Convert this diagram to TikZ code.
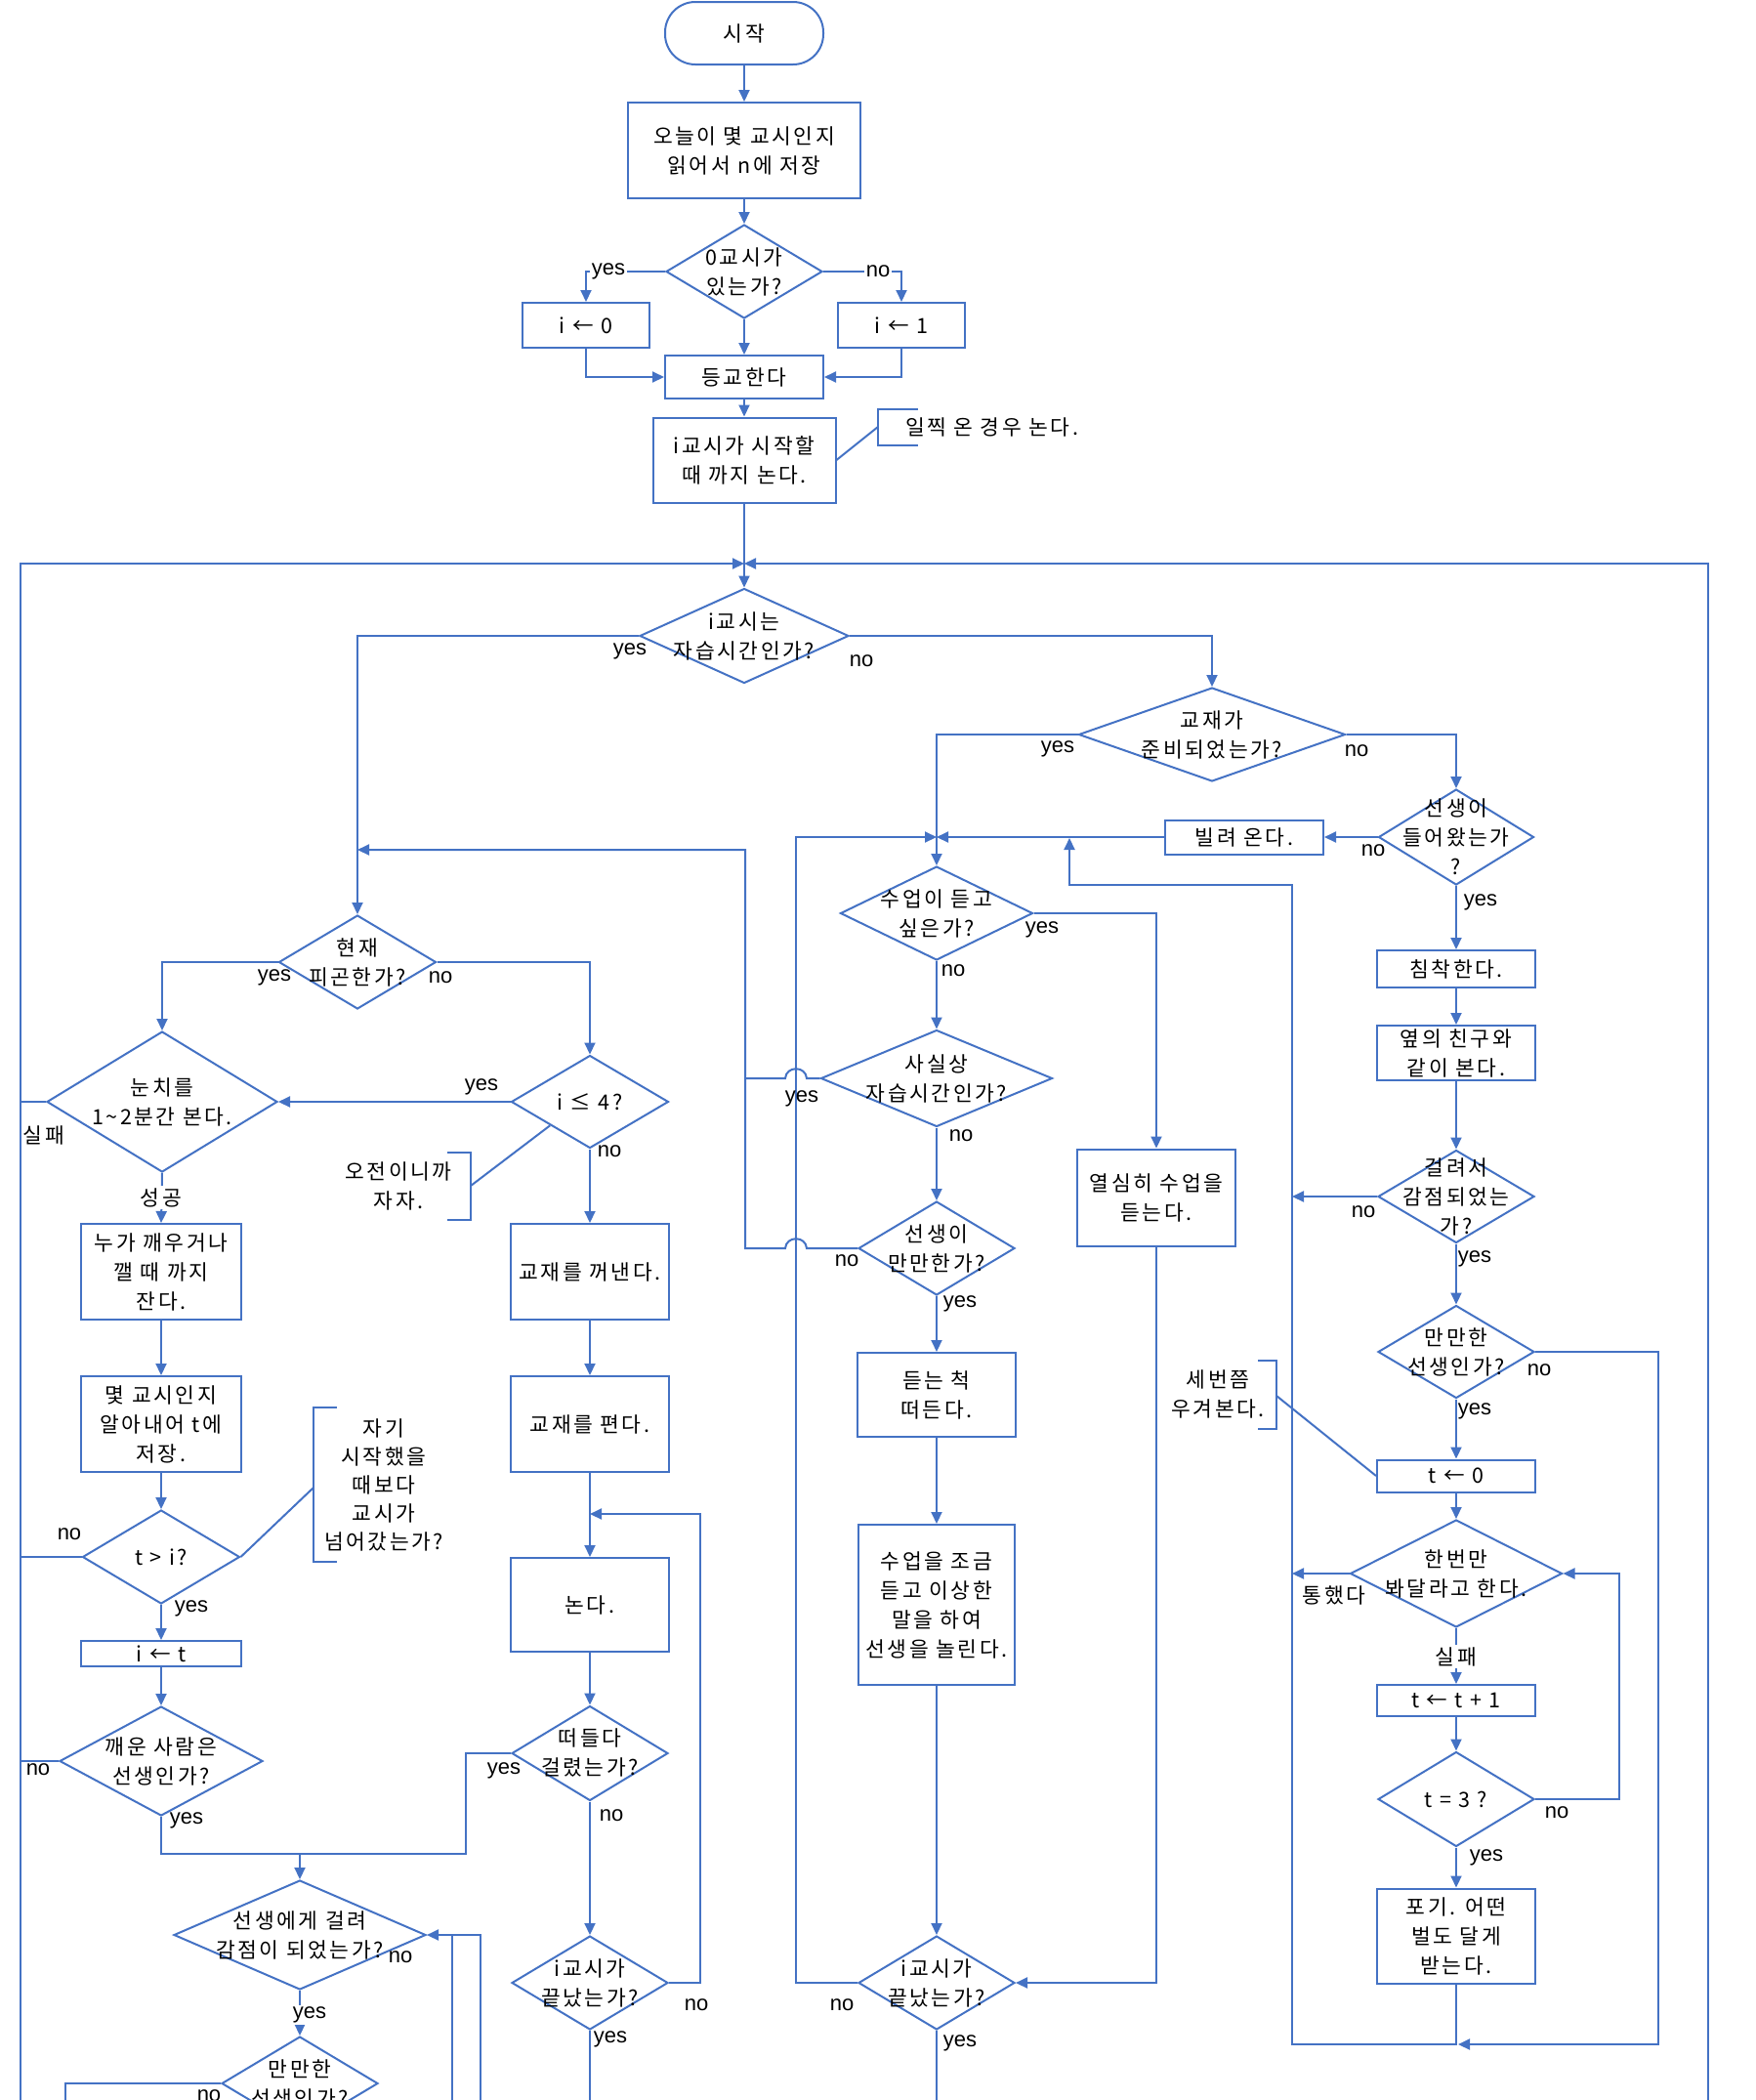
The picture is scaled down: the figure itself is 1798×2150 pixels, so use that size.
\documentclass[tikz,border=0pt]{standalone}
\usepackage{fontspec}
\setmainfont[LetterSpace=12]{Noto Sans CJK KR}
\newfontfamily\lat{Liberation Sans}
\usetikzlibrary{arrows.meta,shapes.geometric}
\definecolor{blu}{RGB}{68,114,196}
\newcommand\Bx[6]{\node[bx,minimum width=#4pt,minimum height=#5pt] (#1) at (#2,#3) {#6};}
\newcommand\Dia[6]{\node[dia,minimum width=#4pt,minimum height=#5pt] (#1) at (#2,#3) {};\node[tx] (#1t) at (#1) {#6};}
\newcommand\Lb[4]{\node[lab,en] (#1) at (#2,#3) {#4};}
\newcommand\Lk[4]{\node[lab] (#1) at (#2,#3) {#4};}
\newcommand\Ol[4]{\node[onl] (#1) at (#2,#3) {#4};}
\begin{document}
\begin{tikzpicture}[x=1pt,y=-1pt,
  font=\fontsize{21.5pt}{30pt}\selectfont,
  en/.style={font=\fontsize{22pt}{30pt}\lat},
  blk/.style={draw=blu, line width=2pt, inner sep=0pt},
  bx/.style={blk, rectangle, align=center},
  dia/.style={blk, diamond},
  tx/.style={align=center, inner sep=0pt},
  lab/.style={inner sep=0pt},
  onl/.style={fill=white, inner sep=2pt},
  ln/.style={draw=blu, line width=2pt},
  ar/.style={ln, -{Triangle[length=12pt,width=11pt]}}]
\useasboundingbox (0,0) rectangle (1798,2150);
\clip (0,0) rectangle (1798,2150);
% ---------- top ----------
\node[blk, rectangle, rounded corners=31pt, minimum width=162pt, minimum height=64pt] (start) at (762,34) {시작};
\Bx{b1}{762}{154}{238}{98}{오늘이 몇 교시인지\\읽어서 n에 저장}
\Dia{d0}{762}{278}{160}{96}{0교시가\\있는가?}
\Bx{bi0}{600}{333}{130}{46}{i ← 0}
\Bx{bi1}{923}{333}{130}{46}{i ← 1}
\Bx{b2}{762}{386}{162}{44}{등교한다}
\Bx{b3}{762}{471}{187}{87}{i교시가 시작할\\때 까지 논다.}
\coordinate (j0) at (762,577);
\Dia{d1}{762}{651}{214}{97}{i교시는\\자습시간인가?}
% ---------- middle column ----------
\Dia{d2}{1241}{752}{273}{96}{교재가\\준비되었는가?}
\Dia{dt}{1491}{857}{159}{98}{선생이\\들어왔는가\\?}
\Bx{bb}{1274}{857}{162}{35}{빌려 온다.}
\coordinate (j1) at (959,857);
\Dia{dsu}{959}{935}{197}{96}{수업이 듣고\\싶은가?}
\Bx{byeol}{1184}{1226}{162}{99}{열심히 수업을\\듣는다.}
\Dia{dsa}{959}{1104}{237}{99}{사실상\\자습시간인가?}
\Dia{dman}{959}{1278}{160}{96}{선생이\\만만한가?}
\Bx{bdeut}{959}{1428}{162}{86}{듣는 척\\떠든다.}
\Bx{bsu}{959}{1643}{160}{164}{수업을 조금\\듣고 이상한\\말을 하여\\선생을 놀린다.}
\Dia{de2}{959}{2030}{160}{96}{i교시가\\끝났는가?}
% ---------- right column ----------
\Bx{bc}{1491}{992}{162}{38}{침착한다.}
\Bx{byp}{1491}{1078}{162}{56}{옆의 친구와\\같이 본다.}
\Dia{dg}{1491}{1225}{160}{95}{걸려서\\감점되었는\\가?}
\Dia{dmr}{1491}{1384}{160}{95}{만만한\\선생인가?}
\Bx{bt0}{1491}{1511}{162}{33}{t ← 0}
\Dia{dh}{1491}{1611}{217}{110}{한번만\\봐달라고 한다.}
\Bx{bt1}{1491}{1741}{162}{32}{t ← t + 1}
\Dia{d3}{1491}{1842}{160}{97}{t = 3 ?}
\Bx{bpo}{1491}{1982}{162}{97}{포기. 어떤\\벌도 달게\\받는다.}
% ---------- left part ----------
\Dia{dnow}{366}{985}{161}{96}{현재\\피곤한가?}
\Dia{dn}{166}{1128}{236}{144}{눈치를\\1\textasciitilde 2분간 본다.}
\Dia{di4}{604}{1128}{161}{95}{i ≤ 4?}
\Bx{bnu}{165}{1302}{164}{98}{누가 깨우거나\\깰 때 까지\\잔다.}
\Bx{bmy}{165}{1458}{164}{98}{몇 교시인지\\알아내어 t에\\저장.}
\Dia{dti}{165}{1594}{161}{96}{t > i?}
\Bx{bit}{165}{1693}{164}{26}{i ← t}
\Dia{dkw}{165}{1803}{208}{112}{깨운 사람은\\선생인가?}
\Bx{bk}{604}{1302}{162}{98}{교재를 꺼낸다.}
\Bx{bp}{604}{1458}{162}{98}{교재를 편다.}
\Bx{bno}{604}{1643}{162}{96}{논다.}
\Dia{dd}{604}{1795}{160}{97}{떠들다\\걸렸는가?}
\Dia{de1}{604}{2030}{160}{96}{i교시가\\끝났는가?}
\coordinate (m1) at (307,1898);
\Dia{dsg}{307}{1981}{258}{112}{선생에게 걸려\\감점이 되었는가?}
\Dia{dml}{307}{2133}{160}{96}{만만한\\선생인가?}
% ---------- connectors: top ----------
\draw[ar] (start.south) -- (b1.north);
\draw[ar] (b1.south) -- (d0.north);
\draw[ar] (d0.west) -| (bi0.north);
\draw[ar] (d0.east) -| (bi1.north);
\draw[ar] (d0.south) -- (b2.north);
\draw[ar] (bi0.south) |- (b2.west);
\draw[ar] (bi1.south) |- (b2.east);
\draw[ar] (b2.south) -- (b3.north);
\draw[ar] (b3.south) -- (d1.north);
\draw[ar] (21,2160) -- (21,577) -- (j0);
\draw[ar] (1749,2160) -- (1749,577) -- (j0);
\draw[ln] (940,419) -- (899,419) -- (899,456) -- (940,456);
\draw[ln] (b3.east) -- (899,437);
\node[lab, anchor=west] (c1) at (927,437) {일찍 온 경우 논다.};
% ---------- connectors: middle ----------
\draw[ar] (d1.east) -| (d2.north);
\draw[ar] (d1.west) -| (dnow.north);
\draw[ar] (d2.east) -| (dt.north);
\draw[ar] (dt.west) -- (bb.east);
\draw[ar] (bb.west) -- (j1);
\draw[ar] (d2.west) -| (dsu.north);
\draw[ar] (dsu.east) -| (byeol.north);
\draw[ar] (dsu.south) -- (dsa.north);
\draw[ar] (dsa.south) -- (dman.north);
\draw[ar] (dman.south) -- (bdeut.north);
\draw[ar] (bdeut.south) -- (bsu.north);
\draw[ar] (bsu.south) -- (de2.north);
\draw[ar] (byeol.south) |- (de2.east);
\draw[ar] (de2.west) -| (815,857) -- (j1);
\draw[ln] (de2.south) -- (959,2160);
\draw[ln] (dsa.west) -- (826,1104) .. controls (825,1091) and (805,1091) .. (804,1104) -- (763,1104);
\draw[ar] (dman.west) -- (826,1278) .. controls (825,1265) and (805,1265) .. (804,1278) -- (763,1278) -- (763,870) -- (366,870);
% ---------- connectors: right ----------
\draw[ar] (dt.south) -- (bc.north);
\draw[ar] (bc.south) -- (byp.north);
\draw[ar] (byp.south) -- (dg.north);
\draw[ar] (dg.west) -- (1323,1225);
\draw[ar] (dg.south) -- (dmr.north);
\draw[ar] (dmr.south) -- (bt0.north);
\draw[ar] (dmr.east) -- (1698,1384) -- (1698,2093) -- (1493,2093);
\draw[ar] (bpo.south) -- (1491,2093) -- (1323,2093) -- (1323,906) -- (1095,906) -- (1095,858);
\draw[ar] (bt0.south) -- (dh.north);
\draw[ar] (dh.west) -- (1323,1611);
\draw[ar] (dh.south) -- (bt1.north);
\draw[ar] (bt1.south) -- (d3.north);
\draw[ar] (d3.east) -- (1658,1842) -- (1658,1611) -- (dh.east);
\draw[ar] (d3.south) -- (bpo.north);
\draw[ln] (1288,1393) -- (1307,1393) -- (1307,1463) -- (1288,1463);
\draw[ln] (1307,1429) -- (bt0.west);
\node[tx] (c4) at (1247,1427) {세번쯤\\우겨본다.};
% ---------- connectors: left ----------
\draw[ar] (dnow.west) -| (dn.north);
\draw[ar] (dnow.east) -| (di4.north);
\draw[ar] (di4.west) -- (dn.east);
\draw[ar] (di4.south) -- (bk.north);
\draw[ln] (dn.west) -- (21,1128);
\draw[ar] (dn.south) -- (bnu.north);
\draw[ar] (bnu.south) -- (bmy.north);
\draw[ar] (bmy.south) -- (dti.north);
\draw[ln] (dti.west) -- (21,1594);
\draw[ar] (dti.south) -- (bit.north);
\draw[ar] (bit.south) -- (dkw.north);
\draw[ln] (dkw.west) -- (21,1803);
\draw[ln] (dkw.south) -- (165,1898) -- (477,1898) -- (477,1795) -- (dd.west);
\draw[ar] (m1) -- (dsg.north);
\draw[ar] (bk.south) -- (bp.north);
\draw[ar] (bp.south) -- (bno.north);
\draw[ar] (bno.south) -- (dd.north);
\draw[ar] (dd.south) -- (de1.north);
\draw[ar] (de1.east) -- (717,2030) -- (717,1550) -- (604,1550);
\draw[ln] (de1.south) -- (604,2160);
\draw[ar] (492,2160) -- (492,1981) -- (dsg.east);
\draw[ln] (463,2160) -- (463,1981);
\draw[ar] (dsg.south) -- (dml.north);
\draw[ln] (dml.west) -- (67,2133) -- (67,2160);
\draw[ln] (458,1180) -- (482,1180) -- (482,1249) -- (458,1249);
\draw[ln] (482,1214) -- (di4.south west);
\node[tx] (c2) at (408,1214) {오전이니까\\자자.};
\draw[ln] (345,1441) -- (321,1441) -- (321,1599) -- (345,1599);
\draw[ln] (321,1523) -- (dti.east);
\node[tx, font=\fontsize{21.5pt}{29pt}\selectfont] (c3) at (393,1520) {자기\\시작했을\\때보다\\교시가\\넘어갔는가?};
% ---------- labels ----------
\node[onl,en] (l1) at (623,278) {yes};
\node[onl,en] (l2) at (899,278) {no};
\Lb{l3}{645}{667}{yes}
\Lb{l4}{882}{677}{no}
\Lb{l5}{1083}{767}{yes}
\Lb{l6}{1389}{769}{no}
\Lb{l7}{1406}{871}{no}
\Lb{l8}{1516}{924}{yes}
\Lb{l9}{1067}{952}{yes}
\Lb{l10}{976}{994}{no}
\Lb{l11}{821}{1125}{yes}
\Lb{l12}{984}{1163}{no}
\Lb{l13}{867}{1291}{no}
\Lb{l14}{983}{1335}{yes}
\Lb{l15}{862}{2053}{no}
\Lb{l16}{983}{2092}{yes}
\Lb{l17}{1396}{1241}{no}
\Lb{l18}{1510}{1289}{yes}
\Lb{l19}{1576}{1403}{no}
\Lb{l20}{1510}{1445}{yes}
\Lk{l21}{1366}{1633}{통했다}
\Ol{l22}{1491}{1696}{실패}
\Lb{l23}{1594}{1856}{no}
\Lb{l24}{1522}{1902}{yes}
\Lb{l25}{281}{1001}{yes}
\Lb{l26}{451}{1001}{no}
\Lb{l27}{493}{1113}{yes}
\Lb{l28}{624}{1179}{no}
\Lk{l29}{45}{1162}{실패}
\Ol{l30}{165}{1226}{성공}
\Lb{l31}{71}{1571}{no}
\Lb{l32}{196}{1647}{yes}
\Lb{l33}{39}{1812}{no}
\Lb{l34}{191}{1864}{yes}
\Lb{l35}{516}{1813}{yes}
\Lb{l36}{626}{1859}{no}
\Lb{l37}{713}{2053}{no}
\Lb{l38}{625}{2088}{yes}
\Lb{l39}{410}{2004}{no}
\node[onl,en] (l40) at (317,2063) {yes};
\Lb{l41}{214}{2146}{no}
\end{tikzpicture}
\end{document}
